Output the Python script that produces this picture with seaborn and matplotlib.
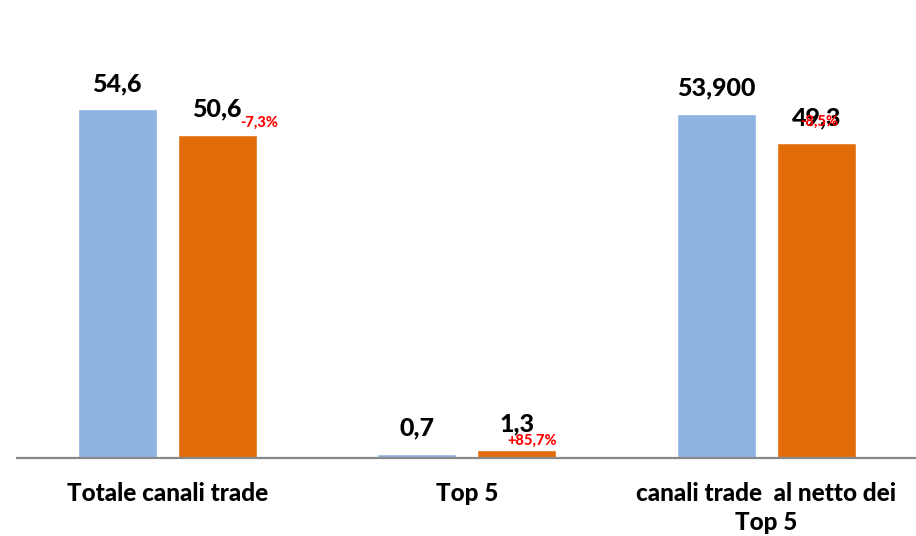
import pandas as pd
import seaborn as sns
import matplotlib.pyplot as plt

# Data
categories = ['Totale canali trade', 'Top 5', 'canali trade  al netto dei\nTop 5']
series = ['Anno 1', 'Anno 2']
values_prev = [54.6, 0.7, 53.9]
values_curr = [50.6, 1.3, 49.3]
labels_prev = ['54,6', '0,7', '53,900']
labels_curr = ['50,6', '1,3', '49,3']
pct_labels = ['-7,3%', '+85,7%', '-8,5%']

# placement of the red % labels (pixels from the top centre of the orange bar)
pct_offsets = [(42, 12), (15, 9), (3, 21)]

df = pd.DataFrame({
    'Categoria': categories * 2,
    'Serie': [series[0]] * 3 + [series[1]] * 3,
    'Valore': values_prev + values_curr,
})

sns.set_style('white')
plt.rcParams['font.family'] = ['Lato', 'DejaVu Sans']
plt.rcParams['text.color'] = 'black'

fig = plt.figure(figsize=(9.16, 5.36), dpi=100)
ax = fig.add_axes([0.019, 0.1455, 0.981, 0.7153])

sns.barplot(data=df, x='Categoria', y='Valore', hue='Serie', order=categories,
            hue_order=series, palette=['#8DB3E2', '#E36C0A'], width=0.667,
            gap=0.21, saturation=1, legend=False, ax=ax)

ax.set_xlim(-0.5, 2.5)
ax.set_ylim(0, 60)
ax.set_xlabel('')
ax.set_ylabel('')
ax.set_yticks([])
ax.tick_params(axis='x', length=0, pad=17)
for t in ax.get_xticklabels():
    t.set_fontsize(17.5)
    t.set_fontweight('black')
    t.set_linespacing(1.35)
    t.set_color('black')

for s in ['top', 'right', 'left']:
    ax.spines[s].set_visible(False)
ax.spines['bottom'].set_color('#888888')
ax.spines['bottom'].set_linewidth(1.6)

# value labels
bars_prev = ax.containers[0]
bars_curr = ax.containers[1]
for bar, lab in zip(bars_prev, labels_prev):
    ax.annotate(lab, (bar.get_x() + bar.get_width() / 2, bar.get_height()),
                xytext=(0, 18), textcoords='offset pixels', ha='center',
                va='baseline', fontsize=18, fontweight='black', annotation_clip=False)
for bar, lab in zip(bars_curr, labels_curr):
    ax.annotate(lab, (bar.get_x() + bar.get_width() / 2, bar.get_height()),
                xytext=(0, 18), textcoords='offset pixels', ha='center',
                va='baseline', fontsize=18, fontweight='black', annotation_clip=False)
for bar, lab, off in zip(bars_curr, pct_labels, pct_offsets):
    ax.annotate(lab, (bar.get_x() + bar.get_width() / 2, bar.get_height()),
                xytext=off, textcoords='offset pixels', ha='center',
                va='center', fontsize=10.5, fontweight='black', color='#FF0000',
                annotation_clip=False)

fig.savefig('out.png', dpi=100)
